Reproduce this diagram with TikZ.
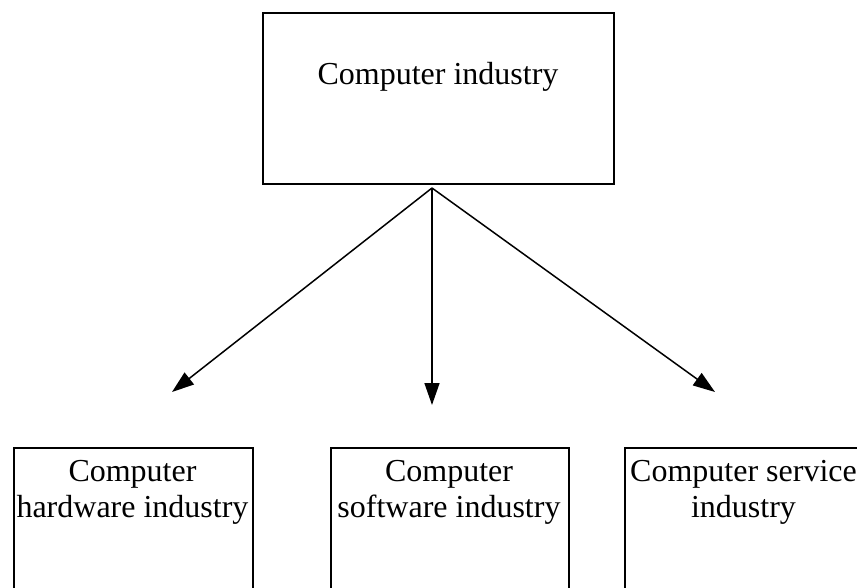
\documentclass[tikz,border=0pt]{standalone}
\usepackage{fontspec}
\setmainfont{Liberation Serif}
\usetikzlibrary{arrows.meta}

\tikzset{
    industrybox/.style={draw, line width=1.9pt, anchor=north west, inner sep=0pt},
    boxlabel/.style={anchor=north, align=center, inner sep=0pt,
        font=\fontsize{32}{36.5}\selectfont},
    branch/.style={line width=1.5pt, -{Triangle[length=22pt, width=15pt]}}
}

\begin{document}
\begin{tikzpicture}[x=1pt, y=-1pt]
            \useasboundingbox (0,0) rectangle (857,587);
            \clip (0,0) rectangle (857,587);

            \node[industrybox, minimum width=351pt, minimum height=171pt] (ind) at (262,12) {};
            \node[boxlabel] (indtext) at (438,62) {Computer industry};

            \node[industrybox, minimum width=239pt, minimum height=170pt] (hw) at (13,447) {};
            \node[boxlabel] (hwtext) at (132.5,460) {Computer\\hardware industry};
            \node[industrybox, minimum width=238pt, minimum height=170pt] (sw) at (330,447) {};
            \node[boxlabel] (swtext) at (449,460) {Computer\\software industry};
            \node[industrybox, minimum width=239pt, minimum height=170pt] (sv) at (624,447) {};
            \node[boxlabel] (svtext) at (743.5,460) {Computer service\\industry};

            \coordinate (fork) at (432,188);
            \coordinate (hwtip) at (172,392);
            \coordinate (swtip) at (432,405);
            \coordinate (svtip) at (715,392);

            \draw[branch] (fork) -- (hwtip); % to hardware
            \draw[branch] (fork) -- (swtip); % to software
            \draw[branch] (fork) -- (svtip); % to services
        \end{tikzpicture}
\end{document}
